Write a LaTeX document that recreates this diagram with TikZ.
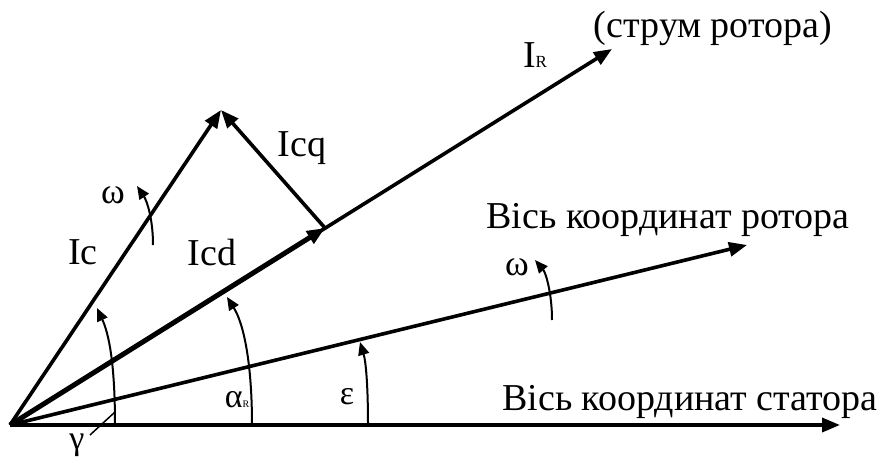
\documentclass[tikz,border=0pt]{standalone}
\usepackage{fontspec}
\setmainfont{Liberation Serif}
\usetikzlibrary{arrows.meta}
\tikzset{
  vec/.style={line width=3.6pt,-{Triangle[length=18pt,width=14pt]}},
  thickvec/.style={line width=5pt,-{Triangle[length=18pt,width=14pt]}},
  angarc/.style={line width=2pt,-{Triangle[length=13pt,width=11pt]}},
  lbl/.style={inner sep=0pt,font=\fontsize{38}{44}\selectfont},
  greek/.style={inner sep=0pt,font=\fontsize{34}{40}\selectfont}
}
\newcommand{\bigsubR}{{\fontsize{17}{20}\selectfont R}}
\newcommand{\tinysubR}{{\fontsize{10}{11}\selectfont R}}
\begin{document}
\begin{tikzpicture}[x=1pt,y=1pt]
\useasboundingbox (0,0) rectangle (883,459);
\coordinate (O) at (10,34);
\coordinate (S) at (840,34);
\coordinate (Rr) at (747,214);
\coordinate (IR) at (612,410);
\coordinate (Ic) at (221,349);
\coordinate (Icd) at (325,231);
% vectors
\draw[vec] (O) -- (S);
\draw[vec] (O) -- (Rr);
\draw[vec] (O) -- (IR);
\draw[vec] (O) -- (Ic);
\draw[thickvec] (O) -- (Icd);
\draw[vec] (Icd) -- (Ic);
% angle arcs
\coordinate (g0) at (115,34);  \coordinate (g1) at (97,151);
\coordinate (a0) at (252,34);  \coordinate (a1) at (227,162);
\coordinate (e0) at (368,34);  \coordinate (e1) at (360,117);
\draw[angarc] (g0) .. controls (115,95) and (109,125) .. (g1);
\draw[angarc] (a0) .. controls (252,95) and (244,135) .. (a1);
\draw[angarc] (e0) .. controls (368,72) and (366,97) .. (e1);
% omega arrows
\coordinate (w0) at (153,214); \coordinate (w1) at (137,273);
\coordinate (v0) at (552,139); \coordinate (v1) at (535,199);
\draw[angarc] (w0) .. controls (153,240) and (147,258) .. (w1);
\draw[angarc] (v0) .. controls (552,165) and (546,186) .. (v1);
% gamma leader
\node[greek] (gam) at (77,14) {γ};
\coordinate (gl) at (115,47);
\coordinate (gs) at (90,24);
\draw[line width=1.5pt] (gs) -- (gl);
% labels
\node[greek] (alR) at (237,59) {α\tinysubR};
\node[greek] (eps) at (347,62) {ε};
\node[greek,font=\fontsize{36}{40}\selectfont] (om1) at (113,264) {ω};
\node[greek,font=\fontsize{36}{40}\selectfont] (om2) at (517,192) {ω};
\node[lbl] (lIc) at (83,207) {Ic};
\node[lbl] (lIcd) at (212,207) {Icd};
\node[lbl] (lIcq) at (302,311) {Icq};
\node[lbl] (lIR) at (535,404) {I\bigsubR};
\node[lbl] (str) at (713,431) {(струм ротора)};
\node[lbl] (rot) at (668,239) {Вісь координат ротора};
\node[lbl] (sta) at (690,57) {Вісь координат статора};
\end{tikzpicture}
\end{document}
